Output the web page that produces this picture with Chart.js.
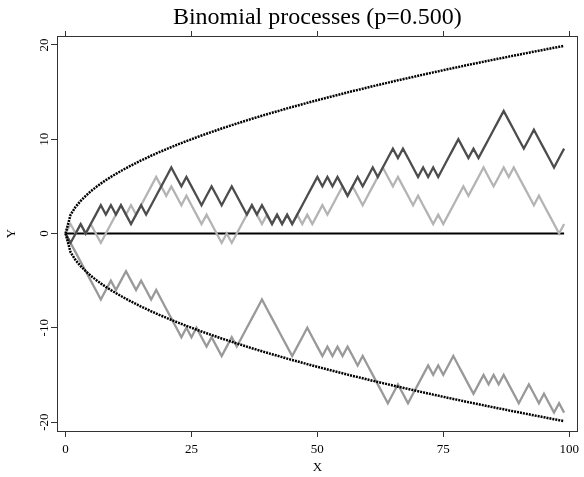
<!DOCTYPE html>
<html>
<head>
<meta charset="utf-8">
<script src="https://cdn.jsdelivr.net/npm/chart.js@4/dist/chart.umd.min.js"></script>
<style>
  body { margin: 0; background: #fff; }
  #wrap { width: 584px; height: 477px; }
</style>
</head>
<body>
<div id="wrap"><canvas id="walks"></canvas></div>
<script>
// step index 0..99
var steps = Array.from({ length: 100 }, function(_, i) { return i; });

var walkDark = [0, -1, 0, 1, 0, 1, 2, 3, 2, 3,
  2, 3, 2, 1, 2, 3, 2, 3, 4, 5,
  6, 7, 6, 5, 6, 5, 4, 3, 4, 5,
  4, 3, 4, 5, 4, 3, 2, 3, 2, 3,
  2, 1, 2, 1, 2, 1, 2, 3, 4, 5,
  6, 5, 6, 5, 6, 5, 4, 5, 6, 5,
  6, 7, 6, 7, 8, 9, 8, 9, 8, 7,
  6, 7, 6, 7, 6, 7, 8, 9, 10, 9,
  8, 9, 8, 9, 10, 11, 12, 13, 12, 11,
  10, 9, 10, 11, 10, 9, 8, 7, 8, 9];

var walkLight = [0, 1, 0, 1, 0, 1, 0, -1, 0, 1,
  2, 3, 2, 3, 2, 3, 4, 5, 6, 5,
  4, 5, 4, 3, 4, 3, 2, 1, 2, 1,
  0, -1, 0, -1, 0, 1, 2, 3, 2, 1,
  2, 1, 2, 1, 2, 1, 2, 1, 2, 1,
  2, 3, 2, 3, 4, 5, 4, 5, 4, 3,
  4, 5, 6, 7, 6, 5, 6, 5, 4, 3,
  4, 3, 2, 1, 2, 1, 2, 3, 4, 5,
  4, 5, 6, 7, 6, 5, 6, 7, 6, 7,
  6, 5, 4, 3, 4, 3, 2, 1, 0, 1];

var walkMid = [0, -1, -2, -3, -4, -5, -6, -7, -6, -5,
  -6, -5, -4, -5, -6, -5, -6, -7, -6, -7,
  -8, -9, -10, -11, -10, -11, -10, -11, -12, -11,
  -12, -13, -12, -11, -12, -11, -10, -9, -8, -7,
  -8, -9, -10, -11, -12, -13, -12, -11, -10, -11,
  -12, -13, -12, -13, -12, -13, -12, -13, -14, -13,
  -14, -15, -16, -17, -18, -17, -16, -17, -18, -17,
  -16, -15, -14, -15, -14, -15, -14, -13, -14, -15,
  -16, -17, -16, -15, -16, -15, -16, -15, -16, -17,
  -18, -17, -16, -17, -18, -17, -18, -19, -18, -19];

// upper envelope, the lower one is its mirror
var bound = [0, 2, 2.83, 3.46, 4, 4.47, 4.90, 5.29, 5.66, 6,
  6.32, 6.63, 6.93, 7.21, 7.48, 7.75, 8, 8.25, 8.49, 8.72,
  8.94, 9.17, 9.38, 9.59, 9.80, 10, 10.20, 10.39, 10.58, 10.77,
  10.95, 11.14, 11.31, 11.49, 11.66, 11.83, 12, 12.17, 12.33, 12.49,
  12.65, 12.81, 12.96, 13.11, 13.27, 13.42, 13.56, 13.71, 13.86, 14,
  14.14, 14.28, 14.42, 14.56, 14.70, 14.83, 14.97, 15.10, 15.23, 15.36,
  15.49, 15.62, 15.75, 15.87, 16, 16.12, 16.25, 16.37, 16.49, 16.61,
  16.73, 16.85, 16.97, 17.09, 17.20, 17.32, 17.44, 17.55, 17.66, 17.78,
  17.89, 18, 18.11, 18.22, 18.33, 18.44, 18.55, 18.65, 18.76, 18.87,
  18.97, 19.08, 19.18, 19.29, 19.39, 19.49, 19.60, 19.70, 19.80, 19.90];

var baseline = 0;
var xTicks = [0, 25, 50, 75, 100];
var yTicks = [-20, -10, 0, 10, 20];

var serif = "'Liberation Serif', 'Times New Roman', serif";
var frame = '#333';

function lineSet(data, color, width, order, dash) {
  return {
    data: data,
    borderColor: color,
    borderWidth: width,
    borderDash: dash || [],
    pointRadius: 0,
    tension: 0,
    fill: false,
    order: order
  };
}

function fixedTicks(list) {
  return function(scale) {
    scale.ticks = list.map(function(v) { return { value: v }; });
  };
}

var config = {
  type: 'line',
  data: {
    labels: steps,
    datasets: [
      lineSet(bound, '#000', 2.5, 0, [2, 1]),
      lineSet(bound.map(function(v) { return -v; }), '#000', 2.5, 0, [2, 1]),
      lineSet(walkDark, '#4d4d4d', 2.3, 1),
      lineSet(walkLight, '#b4b4b4', 2.3, 2),
      lineSet(walkMid, '#999999', 2.3, 3),
      lineSet(steps.map(function() { return baseline; }), '#000', 2.2, 5)
    ]
  },
  options: {
    responsive: true,
    maintainAspectRatio: false,
    animation: false,
    devicePixelRatio: 1,
    layout: { padding: 0 },
    plugins: {
      legend: { display: false },
      tooltip: { enabled: false },
      title: {
        display: true,
        fullSize: false,
        text: 'Binomial processes (p=0.500)',
        color: '#000',
        font: { family: serif, size: 24, weight: 'normal' },
        padding: { top: 3, bottom: 0 }
      }
    },
    scales: {
      x: {
        type: 'linear',
        position: 'bottom',
        min: -1.7,
        max: 101.7,
        afterBuildTicks: fixedTicks(xTicks),
        afterFit: function(s) { s.height = 46; },
        grid: { drawOnChartArea: false, tickLength: 6, color: frame },
        border: { color: frame, width: 1 },
        ticks: { color: '#000', padding: 5, maxRotation: 0, font: { family: serif, size: 13 } },
        title: { display: true, text: 'X', color: '#000', padding: { top: 0, bottom: 2 }, font: { family: serif, size: 13 } }
      },
      x2: {
        type: 'linear',
        position: 'top',
        min: -1.7,
        max: 101.7,
        afterBuildTicks: fixedTicks(xTicks),
        afterFit: function(s) { s.height = 4.2; },
        grid: { drawOnChartArea: false, tickLength: 5, color: frame },
        border: { color: frame, width: 1 },
        ticks: { display: false }
      },
      y: {
        type: 'linear',
        position: 'left',
        min: -20.95,
        max: 20.95,
        afterBuildTicks: fixedTicks(yTicks),
        afterFit: function(s) { s.width = 57; },
        grid: { drawOnChartArea: false, tickLength: 6, color: frame },
        border: { color: frame, width: 1 },
        ticks: {
          color: '#000',
          minRotation: 90,
          maxRotation: 90,
          crossAlign: 'center',
          padding: -2.5,
          font: { family: serif, size: 13 }
        },
        title: { display: true, text: 'Y', color: '#000', padding: { top: 4, bottom: 0 }, font: { family: serif, size: 13 } }
      },
      y2: {
        type: 'linear',
        position: 'right',
        min: -20.95,
        max: 20.95,
        afterFit: function(s) { s.width = 1.5; },
        grid: { drawOnChartArea: false, drawTicks: false, color: frame },
        border: { color: frame, width: 1 },
        ticks: { display: false }
      }
    }
  }
};

window.onload = function() {
  var ctx = document.getElementById('walks').getContext('2d');
  window.walkChart = new Chart(ctx, config);
};
</script>
</body>
</html>
